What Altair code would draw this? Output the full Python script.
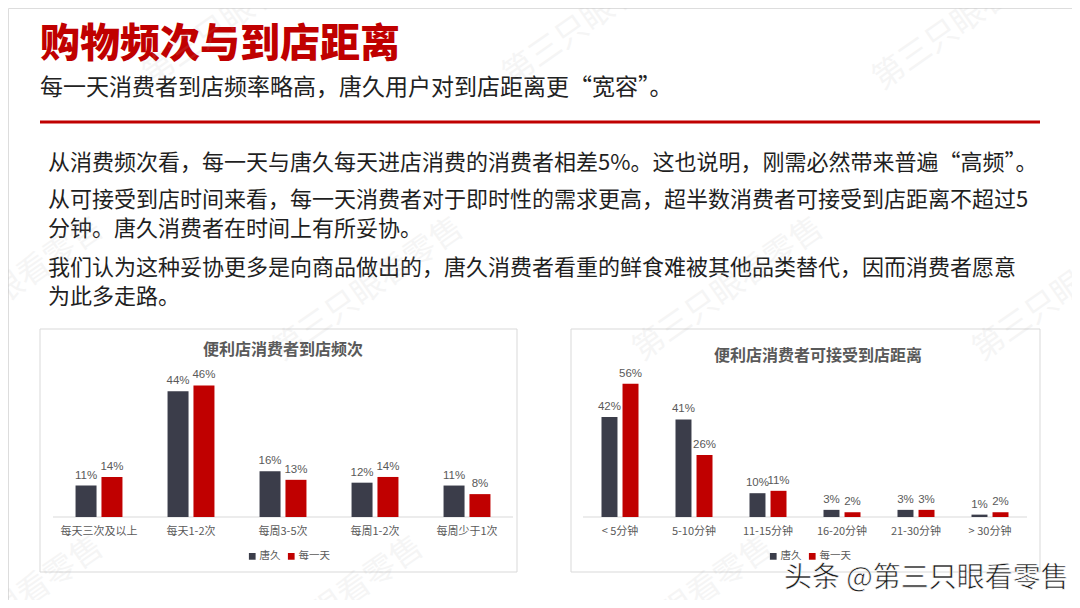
import altair as alt
import pandas as pd

# ---------------- data ----------------
series = ["唐久", "每一天"]
series_colors = ["#3B3D4A", "#C00000"]

freq_cats = ["每天三次及以上", "每天1-2次", "每周3-5次", "每周1-2次", "每周少于1次"]
freq_tangjiu = [11, 44, 16, 12, 11]
freq_meiyitian = [14, 46, 13, 14, 8]

dist_cats = ["< 5分钟", "5-10分钟", "11-15分钟", "16-20分钟", "21-30分钟", "> 30分钟"]
dist_tangjiu = [42, 41, 10, 3, 3, 1]
dist_meiyitian = [56, 26, 11, 2, 3, 2]

title_text = "购物频次与到店距离"
subtitle_text = "每一天消费者到店频率略高，唐久用户对到店距离更“宽容”。"
para_lines = [
    "从消费频次看，每一天与唐久每天进店消费的消费者相差5%。这也说明，刚需必然带来普遍“高频”。",
    "从可接受到店时间来看，每一天消费者对于即时性的需求更高，超半数消费者可接受到店距离不超过5",
    "分钟。唐久消费者在时间上有所妥协。",
    "我们认为这种妥协更多是向商品做出的，唐久消费者看重的鲜食难被其他品类替代，因而消费者愿意",
    "为此多走路。",
]
freq_title = "便利店消费者到店频次"
dist_title = "便利店消费者可接受到店距离"
source_text = "头条 @第三只眼看零售"
watermark_text = "第三只眼看零售"

CJK = "Noto Sans CJK SC"
GRAY = "#595959"
RED = "#C00000"


def long_df(cats, a, b):
    rows = []
    for c, va, vb in zip(cats, a, b):
        rows.append({"cat": c, "series": series[0], "value": va, "label": f"{va}%"})
        rows.append({"cat": c, "series": series[1], "value": vb, "label": f"{vb}%"})
    return pd.DataFrame(rows)


def text_layer(txt, x, y, **kw):
    return alt.Chart(pd.DataFrame({"t": [txt]})).mark_text(**kw).encode(
        text="t:N", x=alt.value(x), y=alt.value(y)
    )


def box(x1, y1, x2, y2):
    return alt.Chart(pd.DataFrame({"a": [0]})).mark_rect(
        fill="white", stroke="#d9d9d9", strokeWidth=1
    ).encode(x=alt.value(x1), x2=alt.value(x2), y=alt.value(y1), y2=alt.value(y2))


def panel(df, cats, xrange, ydomain, yrange, pad_inner, off_pad, lx, ly, base_y):
    xenc = alt.X("cat:N", sort=cats,
                 scale=alt.Scale(domain=cats, range=xrange, paddingInner=pad_inner,
                                 paddingOuter=pad_inner / 2),
                 axis=None)
    base = alt.Chart(df).encode(
        x=xenc,
        xOffset=alt.XOffset("series:N", sort=series,
                            scale=alt.Scale(domain=series, paddingInner=off_pad)),
        y=alt.Y("value:Q", scale=alt.Scale(domain=ydomain, range=yrange, nice=False),
                axis=None),
    )
    bars = base.mark_bar().encode(
        color=alt.Color(
            "series:N",
            scale=alt.Scale(domain=series, range=series_colors),
            legend=alt.Legend(orient="none", legendX=lx, legendY=ly, direction="horizontal",
                              title=None, symbolType="square", symbolSize=45,
                              symbolStrokeWidth=0, labelFontSize=10.5, labelColor=GRAY,
                              labelFont=CJK, columnPadding=5, labelOffset=2),
        )
    )
    labels = base.mark_text(baseline="bottom", dy=-5, fontSize=11.5, color=GRAY,
                            font="Liberation Sans").encode(text="label:N")
    cat_df = pd.DataFrame({"cat": cats})
    baseline_rule = alt.Chart(pd.DataFrame({"a": [0]})).mark_rule(
        color="#d9d9d9", strokeWidth=1.2
    ).encode(x=alt.value(xrange[0]), x2=alt.value(xrange[1]), y=alt.value(base_y))
    cat_labels = alt.Chart(cat_df).mark_text(
        baseline="middle", fontSize=11, color=GRAY, font=CJK
    ).encode(x=xenc, y=alt.value(base_y + 15), text="cat:N")
    return alt.layer(baseline_rule, bars, labels, cat_labels)


freq_df = long_df(freq_cats, freq_tangjiu, freq_meiyitian)
dist_df = long_df(dist_cats, dist_tangjiu, dist_meiyitian)

W, H = 1064, 592
BASE = 509

layers = []
# header
layers.append(text_layer(title_text, 32, 37, align="left", baseline="middle", fontSize=40,
                         fontWeight=900, font=CJK, color=RED))
layers.append(text_layer(subtitle_text, 32, 80, align="left", baseline="middle", fontSize=23,
                         font=CJK, color="#222222"))
layers.append(alt.Chart(pd.DataFrame({"a": [0]})).mark_rule(color=RED, strokeWidth=3).encode(
    x=alt.value(32), x2=alt.value(1032), y=alt.value(114)))
for txt, yy in zip(para_lines, [155, 192, 221, 260, 289]):
    layers.append(text_layer(txt, 40, yy, align="left", baseline="middle", fontSize=22,
                             font=CJK, color="#1f1f1f"))

# boxes
layers.append(box(32, 321, 509, 564))
layers.append(box(563, 321, 1032, 564))

# chart titles
layers.append(text_layer(freq_title, 275, 342, align="center", baseline="middle", fontSize=16,
                         fontWeight="bold", font=CJK, color=GRAY))
layers.append(text_layer(dist_title, 810, 348, align="center", baseline="middle", fontSize=16,
                         fontWeight="bold", font=CJK, color=GRAY))

# panels
layers.append(panel(freq_df, freq_cats, [45, 505], [0, 50], [BASE, BASE - 143], 0.49, 0.19,
                    239, 543, BASE))
layers.append(panel(dist_df, dist_cats, [575, 1019], [0, 60], [BASE, BASE - 142.8], 0.5, 0.24,
                    760, 543, BASE))

# watermarks
for wx, wy in [(230, 6), (590, 6), (960, 10), (0, 281), (360, 281), (720, 281), (1060, 281),
               (0, 600), (320, 600), (670, 600)]:
    layers.append(text_layer(watermark_text, wx, wy, align="center", baseline="middle",
                             fontSize=32, font=CJK, color="#b0b0b0", opacity=0.12, angle=325))

layers.append(text_layer(source_text, 776, 571, align="left", baseline="middle", fontSize=28,
                         font=CJK, color="#1a1a1a", stroke="white", strokeWidth=0.6))

chart = alt.layer(*layers).resolve_scale(
    x="independent", y="independent", xOffset="independent", color="independent"
).properties(
    width=W, height=H, padding=0, autosize=alt.AutoSizeParams(type="none")
).configure_view(stroke="transparent").configure(font=CJK, background="white")

chart.save("out.html", embed_options={"renderer": "svg", "actions": False})
